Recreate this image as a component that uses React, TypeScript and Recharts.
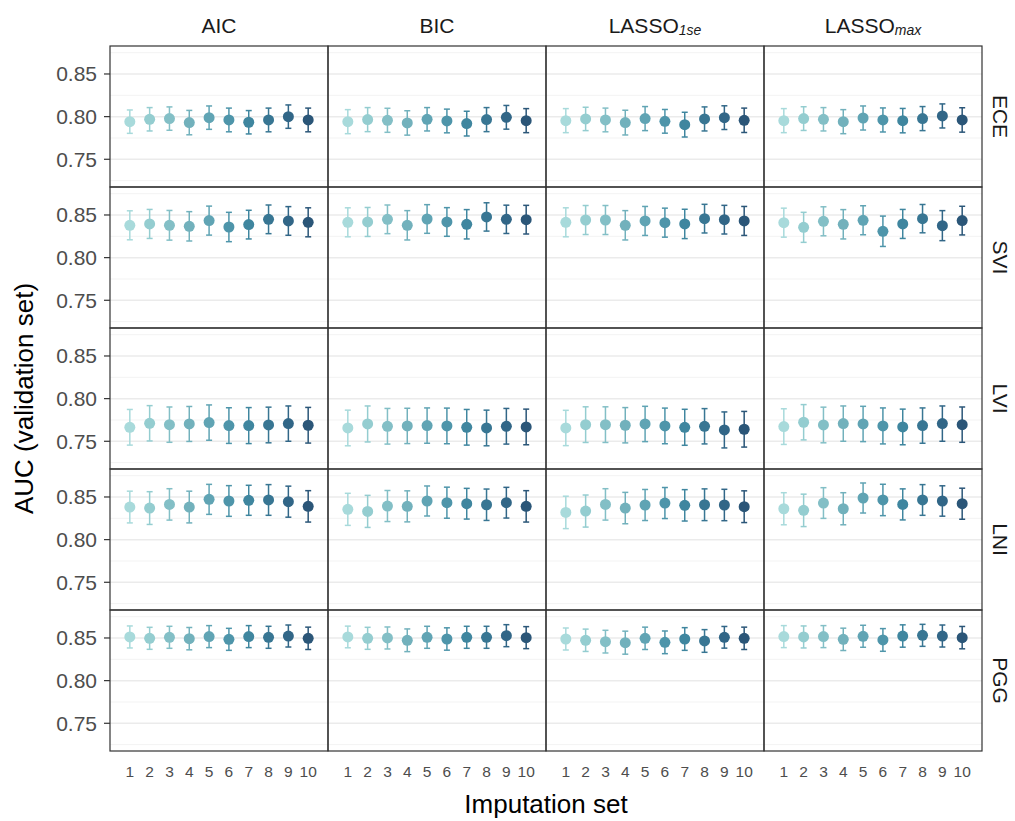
import React from 'react';
import { ScatterChart, Scatter, XAxis, YAxis, ErrorBar, ReferenceLine } from 'recharts';

// Facet layout: rows are outcomes, columns are variable-selection methods
const outcomes = ['ECE', 'SVI', 'LVI', 'LNI', 'PGG'];
const methods = ['AIC', 'BIC', 'LASSO_1se', 'LASSO_max'];
const imputationSets = [1, 2, 3, 4, 5, 6, 7, 8, 9, 10];
const setColors = ['#a8dadb', '#94cdd0', '#83bfc6', '#72b1bc', '#60a4b4', '#4e95aa', '#3f869f', '#387693', '#316687', '#2b5678'];
const yTicks = [0.75, 0.8, 0.85];
const yMinor = [0.725, 0.775, 0.825, 0.875];

// AUC estimates per imputation set; one array per method (AIC, BIC, LASSO 1se, LASSO max)
const eceAuc = [
  [0.7941, 0.7969, 0.7977, 0.7930, 0.7988, 0.7961, 0.7934, 0.7961, 0.8000, 0.7961],
  [0.7941, 0.7965, 0.7957, 0.7926, 0.7969, 0.7949, 0.7918, 0.7965, 0.7992, 0.7953],
  [0.7953, 0.7973, 0.7961, 0.7930, 0.7977, 0.7945, 0.7906, 0.7973, 0.7988, 0.7957],
  [0.7953, 0.7977, 0.7969, 0.7941, 0.7984, 0.7961, 0.7953, 0.7977, 0.8008, 0.7961],
];
const eceCi = [
  [0.0137, 0.0137, 0.0137, 0.0143, 0.0137, 0.0139, 0.0137, 0.0139, 0.0137, 0.0139],
  [0.0141, 0.0141, 0.0141, 0.0143, 0.0137, 0.0139, 0.0145, 0.0141, 0.0139, 0.0141],
  [0.0141, 0.0137, 0.0139, 0.0145, 0.0141, 0.0139, 0.0145, 0.0141, 0.0139, 0.0143],
  [0.0141, 0.0139, 0.0137, 0.0141, 0.0141, 0.0141, 0.0143, 0.0141, 0.0141, 0.0143],
];

const sviAuc = [
  [0.8379, 0.8395, 0.8379, 0.8367, 0.8434, 0.8359, 0.8387, 0.8449, 0.8430, 0.8414],
  [0.8414, 0.8418, 0.8449, 0.8379, 0.8453, 0.8418, 0.8391, 0.8477, 0.8449, 0.8445],
  [0.8414, 0.8441, 0.8441, 0.8379, 0.8430, 0.8410, 0.8395, 0.8457, 0.8445, 0.8430],
  [0.8410, 0.8355, 0.8426, 0.8391, 0.8438, 0.8309, 0.8395, 0.8457, 0.8375, 0.8434],
];
const sviCi = [
  [0.0170, 0.0170, 0.0174, 0.0172, 0.0170, 0.0172, 0.0168, 0.0168, 0.0168, 0.0170],
  [0.0170, 0.0170, 0.0168, 0.0172, 0.0168, 0.0168, 0.0172, 0.0166, 0.0166, 0.0168],
  [0.0170, 0.0170, 0.0170, 0.0172, 0.0170, 0.0170, 0.0172, 0.0168, 0.0168, 0.0170],
  [0.0170, 0.0176, 0.0170, 0.0172, 0.0170, 0.0178, 0.0170, 0.0166, 0.0176, 0.0168],
];

const lviAuc = [
  [0.7664, 0.7711, 0.7695, 0.7703, 0.7719, 0.7684, 0.7684, 0.7691, 0.7707, 0.7688],
  [0.7656, 0.7703, 0.7676, 0.7680, 0.7684, 0.7680, 0.7664, 0.7656, 0.7676, 0.7668],
  [0.7656, 0.7695, 0.7695, 0.7688, 0.7703, 0.7680, 0.7664, 0.7676, 0.7633, 0.7641],
  [0.7672, 0.7723, 0.7691, 0.7707, 0.7703, 0.7680, 0.7668, 0.7684, 0.7707, 0.7695],
];
const lviCi = [
  [0.0209, 0.0207, 0.0207, 0.0205, 0.0207, 0.0209, 0.0211, 0.0209, 0.0207, 0.0209],
  [0.0209, 0.0211, 0.0209, 0.0207, 0.0207, 0.0209, 0.0209, 0.0209, 0.0209, 0.0209],
  [0.0207, 0.0209, 0.0209, 0.0207, 0.0207, 0.0209, 0.0211, 0.0207, 0.0211, 0.0209],
  [0.0209, 0.0207, 0.0209, 0.0207, 0.0207, 0.0211, 0.0209, 0.0207, 0.0207, 0.0207],
];

const lniAuc = [
  [0.8382, 0.8370, 0.8413, 0.8382, 0.8472, 0.8453, 0.8461, 0.8465, 0.8445, 0.8390],
  [0.8355, 0.8331, 0.8394, 0.8390, 0.8453, 0.8433, 0.8421, 0.8409, 0.8433, 0.8390],
  [0.8319, 0.8335, 0.8413, 0.8370, 0.8406, 0.8429, 0.8402, 0.8409, 0.8406, 0.8386],
  [0.8362, 0.8343, 0.8429, 0.8362, 0.8488, 0.8465, 0.8413, 0.8465, 0.8453, 0.8421],
];
const lniCi = [
  [0.0186, 0.0192, 0.0184, 0.0186, 0.0176, 0.0180, 0.0176, 0.0180, 0.0182, 0.0184],
  [0.0188, 0.0188, 0.0182, 0.0182, 0.0176, 0.0182, 0.0180, 0.0184, 0.0180, 0.0184],
  [0.0190, 0.0188, 0.0184, 0.0184, 0.0182, 0.0182, 0.0184, 0.0186, 0.0184, 0.0186],
  [0.0188, 0.0190, 0.0180, 0.0188, 0.0176, 0.0184, 0.0182, 0.0180, 0.0178, 0.0182],
];

const pggAuc = [
  [0.8512, 0.8496, 0.8508, 0.8492, 0.8516, 0.8484, 0.8516, 0.8508, 0.8523, 0.8496],
  [0.8512, 0.8496, 0.8500, 0.8473, 0.8508, 0.8488, 0.8508, 0.8508, 0.8527, 0.8504],
  [0.8488, 0.8473, 0.8457, 0.8445, 0.8496, 0.8449, 0.8488, 0.8465, 0.8508, 0.8496],
  [0.8516, 0.8512, 0.8516, 0.8484, 0.8520, 0.8477, 0.8523, 0.8531, 0.8523, 0.8504],
];
const pggCi = [
  [0.0129, 0.0129, 0.0129, 0.0131, 0.0129, 0.0129, 0.0129, 0.0129, 0.0129, 0.0131],
  [0.0127, 0.0129, 0.0129, 0.0133, 0.0129, 0.0131, 0.0129, 0.0129, 0.0129, 0.0129],
  [0.0129, 0.0131, 0.0133, 0.0135, 0.0131, 0.0133, 0.0133, 0.0133, 0.0127, 0.0131],
  [0.0129, 0.0129, 0.0129, 0.0131, 0.0129, 0.0133, 0.0131, 0.0129, 0.0129, 0.0131],
];

const aucRows = [eceAuc, sviAuc, lviAuc, lniAuc, pggAuc];
const ciRows = [eceCi, sviCi, lviCi, lniCi, pggCi];

// Geometry
const FONT = '"Liberation Sans", Arial, Helvetica, sans-serif';
const LEFT = 110;
const TOP = 46;
const PANEL_W = 218;
const PANEL_H = 141;
const BOTTOM = 40;
const Y_DOMAIN: [number, number] = [0.7175, 0.8828];
const X_DOMAIN: [number, number] = [0, 11];
const BORDER = '#333333';

function Panel({ row, col }: { row: number; col: number }) {
  const showY = col === 0;
  const showX = row === outcomes.length - 1;
  const width = PANEL_W + (showY ? LEFT : 0);
  const height = PANEL_H + (showX ? BOTTOM : 0);
  const means = aucRows[row][col];
  const errs = ciRows[row][col];
  return (
    <div style={{ position: 'absolute', left: showY ? 0 : LEFT + col * PANEL_W, top: TOP + row * PANEL_H }}>
      <ScatterChart width={width} height={height} margin={{ top: 0, right: 0, bottom: 0, left: 0 }}>
        <XAxis
          type="number"
          dataKey="x"
          domain={X_DOMAIN}
          ticks={imputationSets}
          interval={0}
          allowDataOverflow
          hide={!showX}
          height={BOTTOM}
          tickLine={false}
          axisLine={false}
          tickSize={6}
          tickMargin={9}
          tick={{ fontSize: 15.5, fill: '#4d4d4d', fontFamily: FONT }}
        />
        <YAxis
          type="number"
          dataKey="y"
          domain={Y_DOMAIN}
          ticks={yTicks}
          interval={0}
          allowDataOverflow
          hide={!showY}
          width={LEFT}
          axisLine={false}
          tickLine={{ stroke: BORDER, strokeWidth: 1.2 }}
          tickSize={6}
          tickMargin={7}
          tickFormatter={(v: number) => v.toFixed(2)}
          tick={{ fontSize: 21, fill: '#4d4d4d', fontFamily: FONT }}
        />
        {yMinor.map((v) => (
          <ReferenceLine key={'minor' + v} y={v} stroke="#f2f2f2" strokeWidth={0.9} />
        ))}
        {yTicks.map((v) => (
          <ReferenceLine key={'major' + v} y={v} stroke="#ebebeb" strokeWidth={1.5} />
        ))}
        {imputationSets.map((s, i) => (
          <Scatter
            key={s}
            name={'Set ' + s}
            data={[{ x: s, y: means[i], err: errs[i] }]}
            fill={setColors[i]}
            isAnimationActive={false}
            shape={(p: any) => <circle cx={p.cx} cy={p.cy} r={5.5} fill={setColors[i]} />}
          >
            <ErrorBar dataKey="err" direction="y" width={3} stroke={setColors[i]} strokeWidth={1.5} isAnimationActive={false} />
          </Scatter>
        ))}
      </ScatterChart>
    </div>
  );
}

function StripTitle({ label, x }: { label: string; x: number }) {
  const [base, sub] = label.split('_');
  return (
    <text x={x} y={25} textAnchor="middle" dominantBaseline="central" fontSize={21} fill="#1a1a1a" fontFamily={FONT}>
      {base}
      {sub && (
        <tspan fontStyle="italic" fontSize={14} dy={5}>
          {sub}
        </tspan>
      )}
    </text>
  );
}

export default function App() {
  const right = LEFT + methods.length * PANEL_W;
  const bottom = TOP + outcomes.length * PANEL_H;
  return (
    <div style={{ position: 'absolute', left: 0, top: 0, width: 1015, height: 821, background: '#ffffff', fontFamily: FONT }}>
      {outcomes.map((_, r) => methods.map((__, c) => <Panel key={r + '-' + c} row={r} col={c} />))}
      <svg width={1015} height={821} style={{ position: 'absolute', left: 0, top: 0, pointerEvents: 'none' }}>
        {/* panel borders */}
        {methods.map((_, c) =>
          outcomes.map((__, r) => (
            <rect
              key={'b' + r + c}
              x={LEFT + c * PANEL_W}
              y={TOP + r * PANEL_H}
              width={PANEL_W}
              height={PANEL_H}
              fill="none"
              stroke={BORDER}
              strokeWidth={1.2}
            />
          ))
        )}
        {/* column strips */}
        {methods.map((m, c) => (
          <StripTitle key={m} label={m} x={LEFT + c * PANEL_W + PANEL_W / 2} />
        ))}
        {/* row strips */}
        {outcomes.map((o, r) => {
          const cy = TOP + r * PANEL_H + PANEL_H / 2;
          return (
            <text
              key={o}
              x={1000}
              y={cy}
              transform={`rotate(90 1000 ${cy})`}
              textAnchor="middle"
              dominantBaseline="central"
              fontSize={21}
              fill="#1a1a1a"
              fontFamily={FONT}
            >
              {o}
            </text>
          );
        })}
        {/* axis titles */}
        <text
          x={24}
          y={(TOP + bottom) / 2}
          transform={`rotate(-90 24 ${(TOP + bottom) / 2})`}
          textAnchor="middle"
          dominantBaseline="central"
          fontSize={26}
          fill="#000000"
          fontFamily={FONT}
        >
          AUC (validation set)
        </text>
        <text x={(LEFT + right) / 2} y={804} textAnchor="middle" dominantBaseline="central" fontSize={26} fill="#000000" fontFamily={FONT}>
          Imputation set
        </text>
      </svg>
    </div>
  );
}
